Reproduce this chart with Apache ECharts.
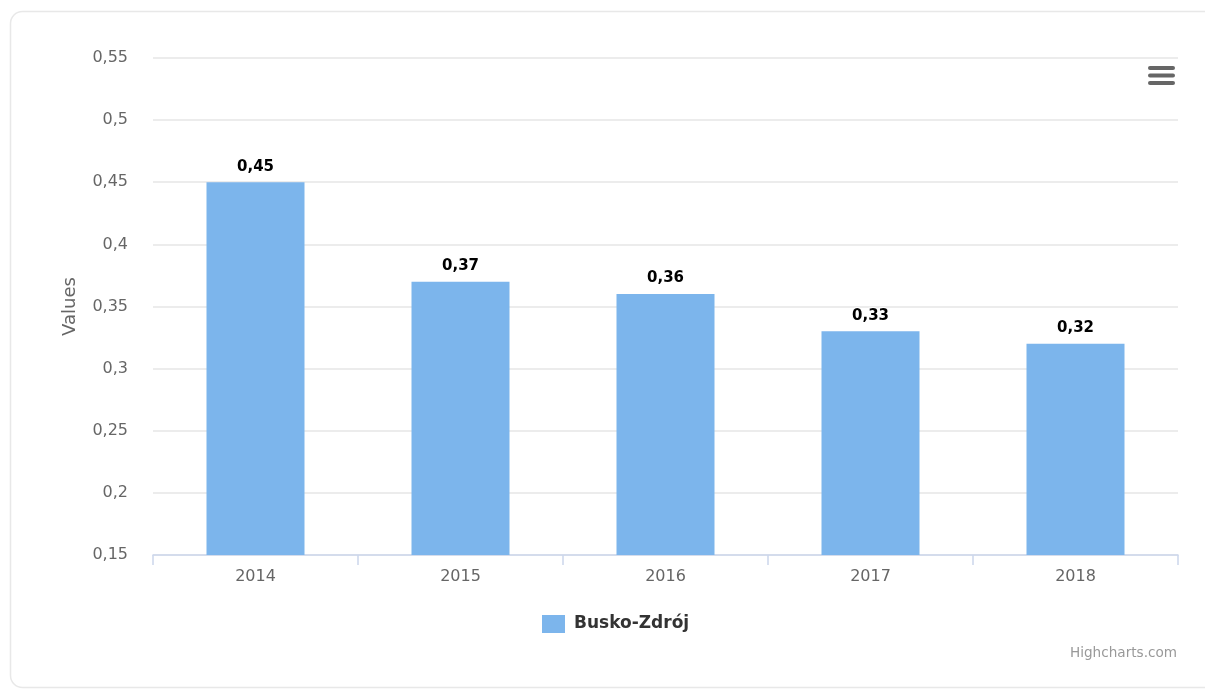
<!DOCTYPE html>
<html>
<head>
<meta charset="utf-8">
<script src="https://cdn.jsdelivr.net/npm/echarts@6/dist/echarts.min.js"></script>
<style>
  html, body { margin: 0; padding: 0; background: #fff; }
  #myEcharts { width: 1205px; height: 691px; }
</style>
</head>
<body>
<div id="myEcharts"></div>
<script>
const years = ['2014', '2015', '2016', '2017', '2018']
const values = [0.45, 0.37, 0.36, 0.33, 0.32]
const seriesName = 'Busko-Zdrój'
const yMin = 0.15
const yMax = 0.55
const yStep = 0.05

// polish style decimal comma
function fmt (v) {
  return String(parseFloat(Number(v).toFixed(2))).replace('.', ',')
}

const myChart = echarts.init(document.getElementById('myEcharts'), null, { renderer: 'canvas' })
myChart.setOption({
  animation: false,
  textStyle: { fontFamily: 'DejaVu Sans' },
  grid: { left: 153, right: 27, top: 58, bottom: 136 },
  legend: {
    top: 610,
    left: 537,
    icon: 'rect',
    itemWidth: 23,
    itemHeight: 18,
    itemGap: 20,
    textStyle: { fontSize: 17, fontWeight: 'bold', color: '#333', padding: [0, 0, 0, 4] },
    data: [seriesName]
  },
  graphic: [
    {
      type: 'rect',
      shape: { x: 10.5, y: 11.5, width: 1220, height: 676, r: 12 },
      style: { fill: 'none', stroke: '#e8e8e8', lineWidth: 1.5 },
      silent: true
    },
    {
      type: 'group',
      left: 1148,
      top: 66,
      children: [
        { type: 'rect', shape: { x: 0, y: 0, width: 27, height: 4, r: 2 }, style: { fill: '#666' } },
        { type: 'rect', shape: { x: 0, y: 7.5, width: 27, height: 4, r: 2 }, style: { fill: '#666' } },
        { type: 'rect', shape: { x: 0, y: 15, width: 27, height: 4, r: 2 }, style: { fill: '#666' } }
      ]
    },
    {
      type: 'text',
      right: 28,
      top: 646,
      style: { text: 'Highcharts.com', fill: '#999', fontSize: 13.6, fontFamily: 'DejaVu Sans' }
    }
  ],
  xAxis: {
    type: 'category',
    data: years,
    axisLine: { lineStyle: { color: '#ccd6eb', width: 1.5 } },
    axisTick: { show: true, length: 10, lineStyle: { color: '#ccd6eb', width: 1.5 } },
    axisLabel: { color: '#666', fontSize: 16, margin: 14 }
  },
  yAxis: {
    type: 'value',
    min: yMin,
    max: yMax,
    interval: yStep,
    name: 'Values',
    nameLocation: 'middle',
    nameGap: 74,
    nameRotate: 90,
    nameTextStyle: { color: '#666', fontSize: 18 },
    axisLine: { show: false },
    axisTick: { show: false },
    axisLabel: { color: '#666', fontSize: 16, margin: 25, formatter: fmt },
    splitLine: { lineStyle: { color: '#e6e6e6', width: 1.5 } }
  },
  series: [
    {
      name: seriesName,
      type: 'bar',
      data: values,
      barWidth: 98,
      itemStyle: { color: '#7cb5ec' },
      label: {
        show: true,
        position: 'top',
        distance: 8,
        color: '#000',
        fontSize: 15,
        fontWeight: 'bold',
        textBorderColor: '#fff',
        textBorderWidth: 2,
        formatter: p => fmt(p.value)
      }
    }
  ]
})
window.addEventListener('resize', () => {
  myChart.resize()
})
</script>
</body>
</html>
